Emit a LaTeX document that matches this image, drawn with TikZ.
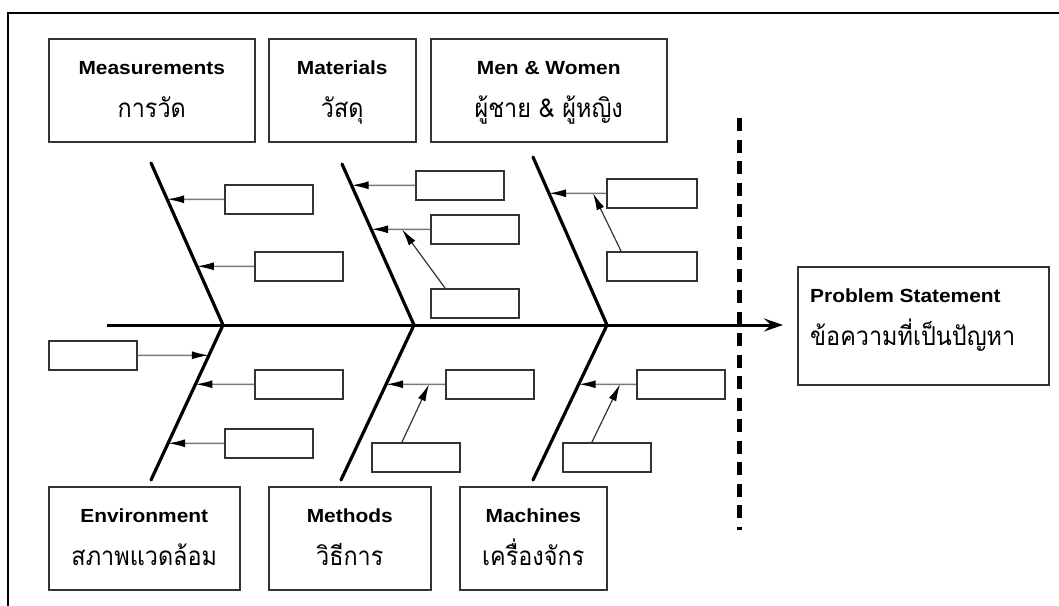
\documentclass[tikz,border=0pt]{standalone}
\usepackage{fontspec}
\setmainfont{Liberation Sans}
\newfontfamily\labfont[FakeStretch=1.1]{Liberation Sans}
\newfontfamily\thaifont[Script=Thai,FakeStretch=0.9]{Loma}
\usetikzlibrary{arrows.meta,calc,positioning}
\definecolor{fishInk}{HTML}{000000}
\definecolor{fishEdge}{HTML}{333333}
\definecolor{fishGray}{HTML}{7A7A7A}
\tikzset{
  every node/.style={text=fishInk},
  catbox/.style={draw=fishEdge, line width=1.5pt, fill=white,
    minimum height=103pt, inner sep=0pt, anchor=north west},
  cattitle/.style={font=\labfont\fontsize{19}{22}\selectfont\bfseries, anchor=base, inner sep=0pt},
  catthai/.style={font=\thaifont\fontsize{26}{30}\selectfont, anchor=base, inner sep=0pt},
  causebox/.style={draw=fishEdge, line width=1.5pt, fill=white,
    minimum width=88pt, minimum height=29pt, inner sep=0pt, anchor=north west},
  bone/.style={line width=3.2pt, draw=fishInk, line cap=round, line join=miter},
  spine/.style={line width=3pt, draw=fishInk,
    -{Stealth[length=19pt,width=13pt,inset=7pt]}},
  cause/.style={line width=1.5pt, draw=fishGray,
    -{Latex[length=17pt,width=8pt,color=fishInk]}},
  feed/.style={line width=1.2pt, draw=fishEdge,
    -{Latex[length=17pt,width=8pt,color=fishInk]}},
  divider/.style={line width=5pt, draw=fishInk, dash pattern=on 13pt off 8.5pt},
  frame/.style={line width=2.2pt, draw=fishInk}
}
\begin{document}
\begin{tikzpicture}[x=1pt,y=-1pt]
  \useasboundingbox (0,0) rectangle (1059,605);
  \draw[frame] (8,606) -- (8,13) -- (1060,13);

  % category boxes
  \foreach \nm/\x/\y/\w/\eng/\thai in {
    meas/48/38/206/{Measurements}/{การวัด},
    mat/268/38/147/{Materials}/{วัสดุ},
    men/430/38/236/{Men \& Women}/{ผู้ชาย \& ผู้หญิง},
    env/48/486/191/{Environment}/{สภาพแวดล้อม},
    meth/268/486/162/{Methods}/{วิธีการ},
    mach/459/486/147/{Machines}/{เครื่องจักร}
  }{
    \node[catbox, minimum width=\w pt] (\nm) at (\x,\y) {};
    \node[cattitle] (\nm-en) at ([yshift=-36pt]\nm.north) {\eng};
    \node[catthai] (\nm-th) at ([yshift=-79pt]\nm.north) {\thai};
  }

  \node[catbox, minimum width=251pt, minimum height=118pt] (prob) at (797,266) {};
  \node[cattitle, anchor=base west] (prob-en) at ([xshift=13pt,yshift=-36pt]prob.north west) {Problem Statement};
  \node[catthai, anchor=base west] (prob-th) at ([xshift=13pt,yshift=-79pt]prob.north west) {ข้อความที่เป็นปัญหา};

  % spine and bones
  \coordinate (tail) at (107,325);
  \coordinate (head) at (783,325);
  \draw[spine] (tail) -- (head);
  \coordinate (divTop) at (739,118);
  \coordinate (divBot) at (739,530);
  \draw[divider] (divTop) -- (divBot);

  \coordinate (mTop) at (151,163);  \coordinate (mJ) at (223,325);  \coordinate (mBot) at (151,480);
  \coordinate (tTop) at (342,164);  \coordinate (tJ) at (414,325);  \coordinate (tBot) at (341,480);
  \coordinate (rTop) at (533,157);  \coordinate (rJ) at (607,325);  \coordinate (rBot) at (533,480);
  \draw[bone] (mTop) -- (mJ) -- (mBot);
  \draw[bone] (tTop) -- (tJ) -- (tBot);
  \draw[bone] (rTop) -- (rJ) -- (rBot);

  % cause boxes
  \node[causebox] (m1) at (224,184) {};
  \node[causebox] (m2) at (254,251) {};
  \node[causebox] (e1) at (48,340) {};
  \node[causebox] (e2) at (254,369) {};
  \node[causebox] (e3) at (224,428) {};
  \node[causebox] (t1) at (415,170) {};
  \node[causebox] (t2) at (430,214) {};
  \node[causebox] (t3) at (430,288) {};
  \node[causebox] (d1) at (445,369) {};
  \node[causebox] (d2) at (371,442) {};
  \node[causebox, minimum width=90pt] (r1) at (606,178) {};
  \node[causebox, minimum width=90pt] (r2) at (606,251) {};
  \node[causebox] (c1) at (636,369) {};
  \node[causebox] (c2) at (562,442) {};

  % arrows into the bones
  \foreach \b/\p/\q in {m1/mTop/mJ, m2/mTop/mJ, e2/mJ/mBot, e3/mJ/mBot,
                        t1/tTop/tJ, t2/tTop/tJ, d1/tJ/tBot,
                        r1/rTop/rJ, c1/rJ/rBot}{
    \draw[cause] (\b.west) -- (intersection of \b.west--\b.east and \p--\q);
  }
  \draw[cause] (e1.east) -- (intersection of e1.west--e1.east and mJ--mBot);

  % sub-causes
  \coordinate (t2k) at ([xshift=-28pt]t2.west);
  \coordinate (d1k) at ([xshift=-16pt]d1.west);
  \coordinate (r1k) at ([xshift=-13pt]r1.west);
  \coordinate (c1k) at ([xshift=-16pt]c1.west);
  \draw[feed] ([xshift=15pt]t3.north west) -- (t2k);
  \draw[feed] ([xshift=31pt]d2.north west) -- (d1k);
  \draw[feed] ([xshift=15pt]r2.north west) -- (r1k);
  \draw[feed] ([xshift=30pt]c2.north west) -- (c1k);
\end{tikzpicture}
\end{document}
